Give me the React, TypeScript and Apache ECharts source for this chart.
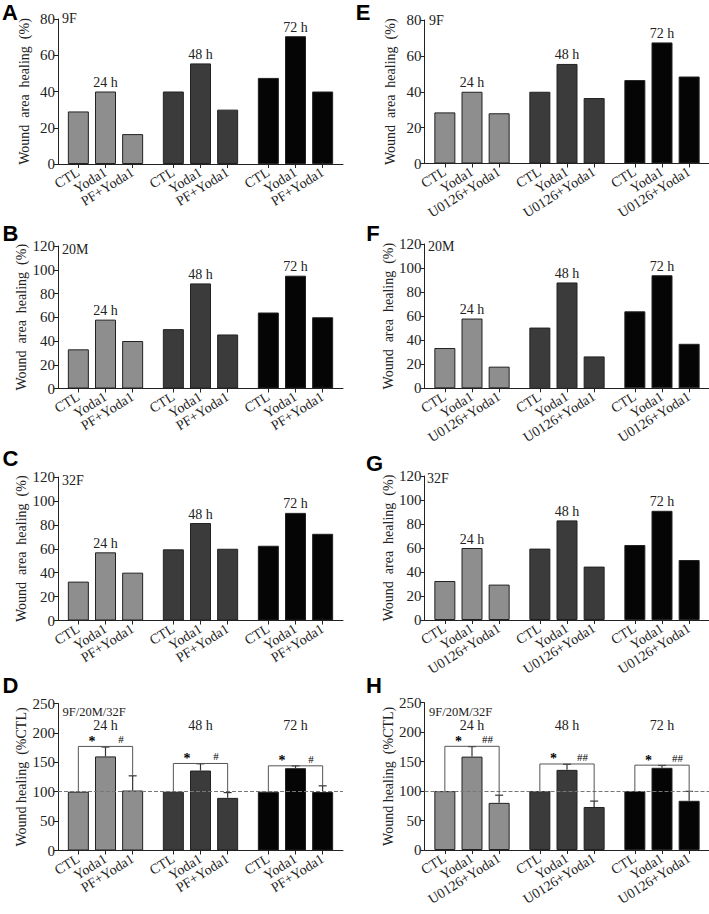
import React, { useEffect, useRef } from "react";
import * as echarts from "echarts";

// ---------- data ----------
const timeLabels = ["24 h", "48 h", "72 h"];
const pfGroups = ["CTL", "Yoda1", "PF+Yoda1"];
const uGroups = ["CTL", "Yoda1", "U0126+Yoda1"];
const subTitles = ["9F", "20M", "32F", "9F/20M/32F"];

const ticks80 = [0, 20, 40, 60, 80];
const ticks120 = [0, 20, 40, 60, 80, 100, 120];
const ticks250 = [0, 50, 100, 150, 200, 250];

// wound area healing (%) per time group: [CTL, Yoda1, treatment+Yoda1]
const healA = [[29, 40, 16.5], [40, 55.5, 30], [47.5, 70.5, 40]];
const healB = [[33, 58, 40], [50, 88.5, 45.5], [64, 95, 60]];
const healC = [[32.5, 57, 40], [59.5, 81.5, 60], [62.5, 90, 72.5]];
const healE = [[28.5, 40, 28], [40, 55.5, 36.5], [46.5, 67.5, 48.5]];
const healF = [[33.5, 58, 18], [50.5, 88, 26.5], [64, 94, 37]];
const healG = [[32.5, 60, 29.5], [59.5, 83, 44.5], [62.5, 91, 50]];

// wound healing (%CTL), means and error (upper) per group
const normD = [[100, 160, 102], [100, 136, 89.5], [100, 140, 99.5]];
const errD = [[0, 16, 25], [0, 11.5, 9], [0, 4, 10.5]];
const bracketD = [177, 148, 144];
const normH = [[100, 158.5, 80], [100, 136, 73], [100, 139.5, 83.5]];
const errH = [[0, 17, 13], [0, 9.5, 10], [0, 4, 16]];
const bracketH = [176, 146, 144];
const sigD = ["*", "#"];
const sigH = ["*", "##"];
const refLevel = 100;
const timeLabelLevel = 212;

// ---------- style ----------
const SERIF = '"Liberation Serif", "DejaVu Serif", serif';
const SANS = '"Liberation Sans", Arial, sans-serif';
const groupColors = ["#8e8e8e", "#3b3b3b", "#050505"];
const INK = "#222";
const NSLOT = 21;
const slot = (g: number, b: number) => g * 7 + 1 + 2 * b;

type Panel = {
  letter: string;
  letterPos: [number, number];
  col: number;
  top: number;
  bottom: number;
  sub: string;
  subPos: [number, number];
  subSize: number;
  treat: string[];
  ticks: number[];
  heal?: number[][];
  norm?: number[][];
  err?: number[][];
  bracket?: number[];
  sig?: string[];
};

const panels: Panel[] = [
  { letter: "A", letterPos: [10, 12.5], col: 0, top: 19, bottom: 164, sub: subTitles[0], subPos: [62, 18.5], subSize: 14, treat: pfGroups, ticks: ticks80, heal: healA },
  { letter: "B", letterPos: [10.5, 233.5], col: 0, top: 246, bottom: 388.5, sub: subTitles[1], subPos: [62, 249], subSize: 14, treat: pfGroups, ticks: ticks120, heal: healB },
  { letter: "C", letterPos: [10.5, 458.5], col: 0, top: 477, bottom: 620.5, sub: subTitles[2], subPos: [62, 480], subSize: 14, treat: pfGroups, ticks: ticks120, heal: healC },
  { letter: "D", letterPos: [10.5, 685], col: 0, top: 703.5, bottom: 850.5, sub: subTitles[3], subPos: [62.5, 711.5], subSize: 12.5, treat: pfGroups, ticks: ticks250, norm: normD, err: errD, bracket: bracketD, sig: sigD },
  { letter: "E", letterPos: [363, 12.5], col: 1, top: 20, bottom: 163.5, sub: subTitles[0], subPos: [429, 20], subSize: 14, treat: uGroups, ticks: ticks80, heal: healE },
  { letter: "F", letterPos: [373, 233.5], col: 1, top: 244, bottom: 388.3, sub: subTitles[1], subPos: [428, 246], subSize: 14, treat: uGroups, ticks: ticks120, heal: healF },
  { letter: "G", letterPos: [374.5, 463.5], col: 1, top: 476, bottom: 620, sub: subTitles[2], subPos: [427, 478], subSize: 14, treat: uGroups, ticks: ticks120, heal: healG },
  { letter: "H", letterPos: [374, 685], col: 1, top: 702.7, bottom: 850, sub: subTitles[3], subPos: [429, 711.5], subSize: 12.5, treat: uGroups, ticks: ticks250, norm: normH, err: errH, bracket: bracketH, sig: sigH },
];

function textEl(x: number, y: number, text: string, size: number, family: string, weight: string, align: string, fill = INK) {
  return {
    type: "text",
    x,
    y,
    silent: true,
    style: {
      text,
      fontSize: size,
      fontFamily: family,
      fontWeight: weight,
      fill,
      textFill: fill,
      stroke: "none",
      align,
      verticalAlign: "middle",
      textAlign: align,
      textVerticalAlign: "middle",
    },
  };
}

function buildOption() {
  const grid: any[] = [];
  const xAxis: any[] = [];
  const yAxis: any[] = [];
  const series: any[] = [];
  const graphic: any[] = [];

  panels.forEach((p, i) => {
    const left = p.col === 0 ? 58 : 424.5;
    grid.push({ left, top: p.top, width: 285, height: p.bottom - p.top, containLabel: false, outerBoundsMode: "none" });

    const labels: string[] = new Array(NSLOT).fill("");
    for (let g = 0; g < 3; g++) p.treat.forEach((t, b) => (labels[slot(g, b)] = t));
    const shown = (k: number) => labels[k] !== "";

    xAxis.push({
      type: "category",
      gridIndex: i,
      data: labels.map((_, k) => "s" + k),
      boundaryGap: true,
      axisLine: { show: true, lineStyle: { color: INK, width: 1 } },
      axisTick: { show: true, alignWithLabel: true, length: 4, interval: (k: number) => shown(k), lineStyle: { color: INK } },
      axisLabel: {
        show: true,
        interval: (k: number) => shown(k),
        hideOverlap: false,
        rotate: 32,
        margin: 7,
        formatter: (_v: string, k: number) => labels[k],
        fontFamily: SERIF,
        fontSize: 14,
        color: INK,
      },
      splitLine: { show: false },
    });

    const isNorm = !!p.norm;
    yAxis.push({
      type: "value",
      gridIndex: i,
      min: p.ticks[0],
      max: p.ticks[p.ticks.length - 1],
      interval: p.ticks[1] - p.ticks[0],
      name: isNorm ? "Wound healing  (%CTL)" : "Wound  area  healing  (%)",
      nameLocation: "middle",
      nameGap: 27,
      nameTextStyle: { fontFamily: SERIF, fontSize: 14, color: INK },
      axisLine: { show: true, lineStyle: { color: INK, width: 1 } },
      axisTick: { show: true, length: 4, lineStyle: { color: INK } },
      axisLabel: { fontFamily: SERIF, fontSize: 15, color: INK, margin: 3 },
      splitLine: { show: false },
    });

    const vals = (p.heal || p.norm) as number[][];
    const data: any[] = new Array(NSLOT).fill("-");
    vals.forEach((grp, g) =>
      grp.forEach((v, b) => {
        const item: any = { value: v, itemStyle: { color: groupColors[g] } };
        if (!isNorm && b === 1) {
          item.label = {
            show: true,
            position: "top",
            distance: 2,
            formatter: timeLabels[g],
            fontFamily: SERIF,
            fontSize: 14,
            color: INK,
          };
        }
        data[slot(g, b)] = item;
      })
    );

    series.push({
      type: "bar",
      xAxisIndex: i,
      yAxisIndex: i,
      data,
      barWidth: 21,
      silent: true,
      itemStyle: { borderColor: INK, borderWidth: 1 },
      markLine: isNorm
        ? {
            silent: true,
            symbol: ["none", "none"],
            label: { show: false },
            lineStyle: { type: "dashed", color: "#777", width: 1 },
            data: [{ yAxis: refLevel }],
          }
        : undefined,
    });

    if (isNorm) {
      const errRows: number[][] = [];
      const err = p.err as number[][];
      vals.forEach((grp, g) =>
        grp.forEach((v, b) => {
          if (err[g][b] > 0) errRows.push([slot(g, b), v, v + err[g][b]]);
        })
      );
      series.push({
        type: "custom",
        xAxisIndex: i,
        yAxisIndex: i,
        silent: true,
        z: 4,
        clip: false,
        encode: { x: 0, y: [1, 2] },
        itemStyle: { color: INK },
        data: errRows,
        renderItem: (_params: any, api: any) => {
          const x = api.value(0);
          const lo = api.coord([x, api.value(1)]);
          const hi = api.coord([x, api.value(2)]);
          return {
            type: "group",
            children: [
              { type: "line", shape: { x1: lo[0], y1: lo[1], x2: hi[0], y2: hi[1] }, style: { stroke: "#333", lineWidth: 1.2 } },
              { type: "line", shape: { x1: hi[0] - 4, y1: hi[1], x2: hi[0] + 4, y2: hi[1] }, style: { stroke: "#333", lineWidth: 1.2 } },
            ],
          };
        },
      });

      const bracket = p.bracket as number[];
      const sig = p.sig as string[];
      const bRows = vals.map((grp, g) => [
        slot(g, 0),
        slot(g, 1),
        slot(g, 2),
        bracket[g],
        grp[0] + err[g][0],
        grp[1] + err[g][1],
        grp[2] + err[g][2],
        g,
      ]);
      series.push({
        type: "custom",
        xAxisIndex: i,
        yAxisIndex: i,
        silent: true,
        z: 5,
        clip: false,
        encode: { x: 0, y: 3 },
        itemStyle: { color: INK },
        data: bRows,
        renderItem: (_params: any, api: any) => {
          const c = api.value(0);
          const y1 = api.value(1);
          const t = api.value(2);
          const b = api.value(3);
          const g = api.value(7);
          const pc0 = api.coord([c, api.value(4)]);
          const pcb = api.coord([c, b]);
          const pyb = api.coord([y1, b]);
          const py0 = api.coord([y1, api.value(5)]);
          const ptb = api.coord([t, b]);
          const pt0 = api.coord([t, api.value(6)]);
          const lab = api.coord([y1, timeLabelLevel]);
          return {
            type: "group",
            children: [
              {
                type: "polyline",
                shape: { points: [pc0, pcb, ptb, pt0] },
                style: { stroke: "#555", lineWidth: 1, fill: "none" },
              },
              {
                type: "line",
                shape: { x1: pyb[0], y1: pyb[1], x2: py0[0], y2: py0[1] },
                style: { stroke: "#555", lineWidth: 1 },
              },
              textEl((pc0[0] + pyb[0]) / 2, pcb[1] - 5, sig[0], 14, SERIF, "bold", "center", "#000"),
              textEl((pyb[0] + ptb[0]) / 2 + 2, pcb[1] - 7, sig[1], 11, SERIF, "normal", "center", "#000"),
              textEl(lab[0], lab[1], timeLabels[g], 14, SERIF, "normal", "center"),
            ],
          };
        },
      });
    }

    graphic.push(textEl(p.letterPos[0], p.letterPos[1], p.letter, 22, SANS, "bold", "center", "#000"));
    graphic.push(textEl(p.subPos[0], p.subPos[1], p.sub, p.subSize, SERIF, "normal", "left"));
  });

  return {
    animation: false,
    backgroundColor: "#fff",
    textStyle: { fontFamily: SERIF },
    grid,
    xAxis,
    yAxis,
    series,
    graphic,
  };
}

export default function App() {
  const ref = useRef<HTMLDivElement>(null);
  useEffect(() => {
    document.body.style.margin = "0";
    if (!ref.current) return;
    const chart = echarts.init(ref.current, undefined, { renderer: "svg" });
    chart.setOption(buildOption() as any);
    return () => chart.dispose();
  }, []);
  return <div ref={ref} style={{ width: 709, height: 914, background: "#fff" }} />;
}
